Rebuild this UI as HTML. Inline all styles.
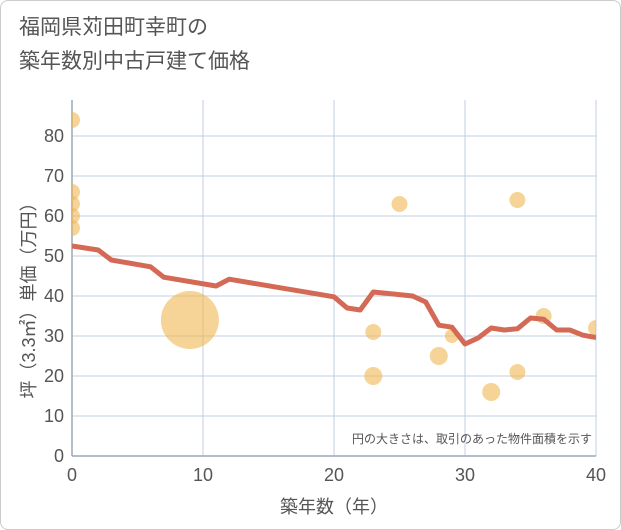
<!DOCTYPE html>
<html><head><meta charset="utf-8"><style>
body{margin:0;background:#fff;font-family:"Liberation Sans","Noto Sans CJK JP",sans-serif;}
#wrap{position:relative;width:619px;height:528px;border:1px solid #ccc;border-radius:8px;overflow:hidden;background:#fff}
h1{position:absolute;left:18px;top:10px;margin:0;font-size:21px;font-weight:normal;color:#555;line-height:34px}
</style></head><body>
<div id="wrap">
<h1>福岡県苅田町幸町の<br>築年数別中古戸建て価格</h1>
<svg id="c" width="621" height="530" style="position:absolute;left:-1px;top:-1px"></svg>
</div>
<script>
const xTicks=[0,10,20,30,40];
const yTicks=[0,10,20,30,40,50,60,70,80];
const lineX=[0,2,3,6,7,11,12,20,21,22,23,26,27,28,29,30,31,32,33,34,35,36,37,38,39,40];
const lineY=[52.5,51.5,49,47.3,44.7,42.5,44.2,39.8,37,36.5,41,40,38.5,32.7,32.2,28,29.5,32,31.5,31.8,34.5,34.2,31.5,31.5,30.2,29.6];
const ptX=[0,0,0,0,0,9,23,23,25,28,29,32,34,34,36,40];
const ptY=[84,66,63,60,57,34,31,20,63,25,30,16,64,21,35,32];
const ptR=[8,8,8,8,8,29,8,9,8,9,7,9,8,8,8,8];
const NS="http://www.w3.org/2000/svg",svg=document.getElementById('c');
const X0=72,X1=596,Y0=456,Y1=136;
const sx=v=>X0+(v-0)/40*(X1-X0), sy=v=>Y0-(v/80)*(Y0-Y1);
function mk(t,a,p){const e=document.createElementNS(NS,t);for(const k in a)e.setAttribute(k,a[k]);(p||svg).appendChild(e);return e;}
const defs=mk('defs',{});const cp=mk('clipPath',{id:'pc'},defs);mk('rect',{x:X0,y:100,width:X1-X0,height:Y0-100},cp);
yTicks.forEach(v=>{const l=mk('line',{x1:X0,x2:X1,y1:sy(v),y2:sy(v),stroke:'#c0cfe0','stroke-width':1});


const t=mk('text',{x:X0-8,y:sy(v)+6,'text-anchor':'end','font-size':18,fill:'#555'});t.textContent=v;

});
xTicks.forEach(v=>{const l=mk('line',{x1:sx(v),x2:sx(v),y1:100,y2:Y0,stroke:'#c0cfe0','stroke-width':1});


const t=mk('text',{x:sx(v),y:Y0+25,'text-anchor':'middle','font-size':18,fill:'#555'});t.textContent=v;

});
mk('line',{x1:X0,x2:X0,y1:100,y2:Y0,stroke:'#9aa8b8','stroke-width':1.5});
mk('line',{x1:X0,x2:X1,y1:Y0,y2:Y0,stroke:'#9aa8b8','stroke-width':1.5});
const g=mk('g',{'clip-path':'url(#pc)'});
ptX.forEach((v,i)=>{const c=mk('circle',{cx:sx(v),cy:sy(ptY[i]),r:ptR[i],fill:'#f0b552','fill-opacity':0.6},g);

});
const pl=mk('polyline',{points:lineX.map((v,i)=>sx(v)+','+sy(lineY[i])).join(' '),fill:'none',stroke:'#d46a55','stroke-width':5,'stroke-linejoin':'round'},g);


const n=mk('text',{x:592,y:443,'text-anchor':'end','font-size':12,fill:'#555'});n.textContent='円の大きさは、取引のあった物件面積を示す';


const xt=mk('text',{x:334,y:513,'text-anchor':'middle','font-size':18,fill:'#555'});xt.textContent='築年数（年）';


const yt=mk('text',{x:0,y:0,'text-anchor':'middle','font-size':18,fill:'#555',transform:'translate(35,296) rotate(-90)'});yt.textContent='坪（3.3㎡）単価（万円）';


</script>
</body></html>
